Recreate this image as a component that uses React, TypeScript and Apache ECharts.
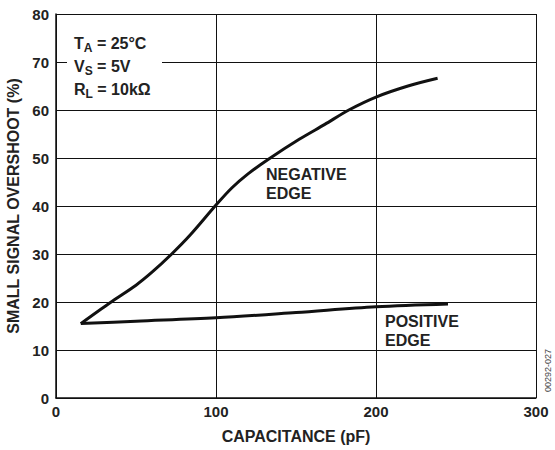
import React, { useEffect, useRef } from "react";
import * as echarts from "echarts";

const negCap = [15.5, 34, 50, 60, 72, 84, 100, 110, 120, 133, 152, 168, 183, 200, 220, 238.5];
const negOvershoot = [15.5, 19.9, 23.5, 26.2, 29.9, 34, 40.2, 43.8, 46.7, 49.8, 53.9, 57, 60, 62.7, 65, 66.6];
const posCap = [15.5, 50, 100, 150, 200, 245];
const posOvershoot = [15.5, 16.0, 16.7, 17.8, 19.0, 19.6];
const xTicks = [0, 100, 200, 300];
const yTicks = [0, 10, 20, 30, 40, 50, 60, 70, 80];

const FONT = "'Liberation Sans', Arial, sans-serif";

export default function App() {
  const ref = useRef<HTMLDivElement>(null);
  useEffect(() => {
    if (!ref.current) return;
    const chart = echarts.init(ref.current, null, { renderer: "svg" });
    const richStyle = {
      b: { fontFamily: FONT, fontWeight: "bold", fontSize: 16, fill: "#222" },
      s: { fontFamily: FONT, fontWeight: "bold", fontSize: 12, fill: "#222", padding: [9, 0, 0, 0] },
    };
    chart.setOption({
      animation: false,
      backgroundColor: "#fff",
      grid: { left: 56, right: 19, top: 14, bottom: 52, outerBoundsMode: "none", containLabel: false },
      xAxis: {
        type: "value",
        min: xTicks[0],
        max: xTicks[xTicks.length - 1],
        interval: 100,
        name: "CAPACITANCE (pF)",
        nameLocation: "middle",
        nameGap: 30,
        nameTextStyle: { fontFamily: FONT, fontWeight: "bold", fontSize: 16, color: "#222" },
        axisLine: { lineStyle: { color: "#111", width: 1.5 } },
        axisTick: { show: false },
        axisLabel: { fontFamily: FONT, fontWeight: "bold", fontSize: 15, color: "#222", margin: 6 },
        splitLine: { show: true, lineStyle: { color: "#111", width: 1 } },
      },
      yAxis: {
        type: "value",
        min: yTicks[0],
        max: yTicks[yTicks.length - 1],
        interval: 10,
        name: "SMALL SIGNAL OVERSHOOT (%)",
        nameLocation: "middle",
        nameGap: 35,
        nameTextStyle: { fontFamily: FONT, fontWeight: "bold", fontSize: 16, color: "#222" },
        axisLine: { show: true, lineStyle: { color: "#111", width: 1.5 } },
        axisTick: { show: false },
        axisLabel: { fontFamily: FONT, fontWeight: "bold", fontSize: 15, color: "#222", margin: 7 },
        splitLine: { show: true, lineStyle: { color: "#111", width: 1 } },
      },
      series: [
        {
          type: "line",
          name: "NEGATIVE EDGE",
          data: negCap.map((c, i) => [c, negOvershoot[i]]),
          smooth: 0.3,
          symbol: "none",
          lineStyle: { color: "#111", width: 3 },
          z: 5,
        },
        {
          type: "line",
          name: "POSITIVE EDGE",
          data: posCap.map((c, i) => [c, posOvershoot[i]]),
          smooth: 0.33,
          symbol: "none",
          lineStyle: { color: "#111", width: 3 },
          z: 5,
        },
      ],
      graphic: [
        { type: "rect", shape: { x: 67, y: 30, width: 95, height: 72 }, style: { fill: "#fff" }, z: 10 },
        {
          type: "text", x: 74, y: 33, z: 11,
          style: { text: "{b|T}{s|A}{b| = 25°C}", rich: richStyle },
        },
        {
          type: "text", x: 74, y: 56, z: 11,
          style: { text: "{b|V}{s|S}{b| = 5V}", rich: richStyle },
        },
        {
          type: "text", x: 74, y: 79, z: 11,
          style: { text: "{b|R}{s|L}{b| = 10kΩ}", rich: richStyle },
        },
        {
          type: "text", x: 266, y: 165, z: 11,
          style: { text: "NEGATIVE\nEDGE", fontFamily: FONT, fontWeight: "bold", fontSize: 16, lineHeight: 19, fill: "#222" },
        },
        {
          type: "text", x: 385, y: 312, z: 11,
          style: { text: "POSITIVE\nEDGE", fontFamily: FONT, fontWeight: "bold", fontSize: 16, lineHeight: 19, fill: "#222" },
        },
        {
          type: "text", x: 543, y: 392, rotation: Math.PI / 2, z: 11,
          style: { text: "00292-027", fontFamily: FONT, fontSize: 9, fill: "#444", align: "left", verticalAlign: "top" },
        },
      ],
    });
    return () => chart.dispose();
  }, []);
  return <div ref={ref} style={{ position: "fixed", left: 0, top: 0, width: 555, height: 450 }} />;
}
